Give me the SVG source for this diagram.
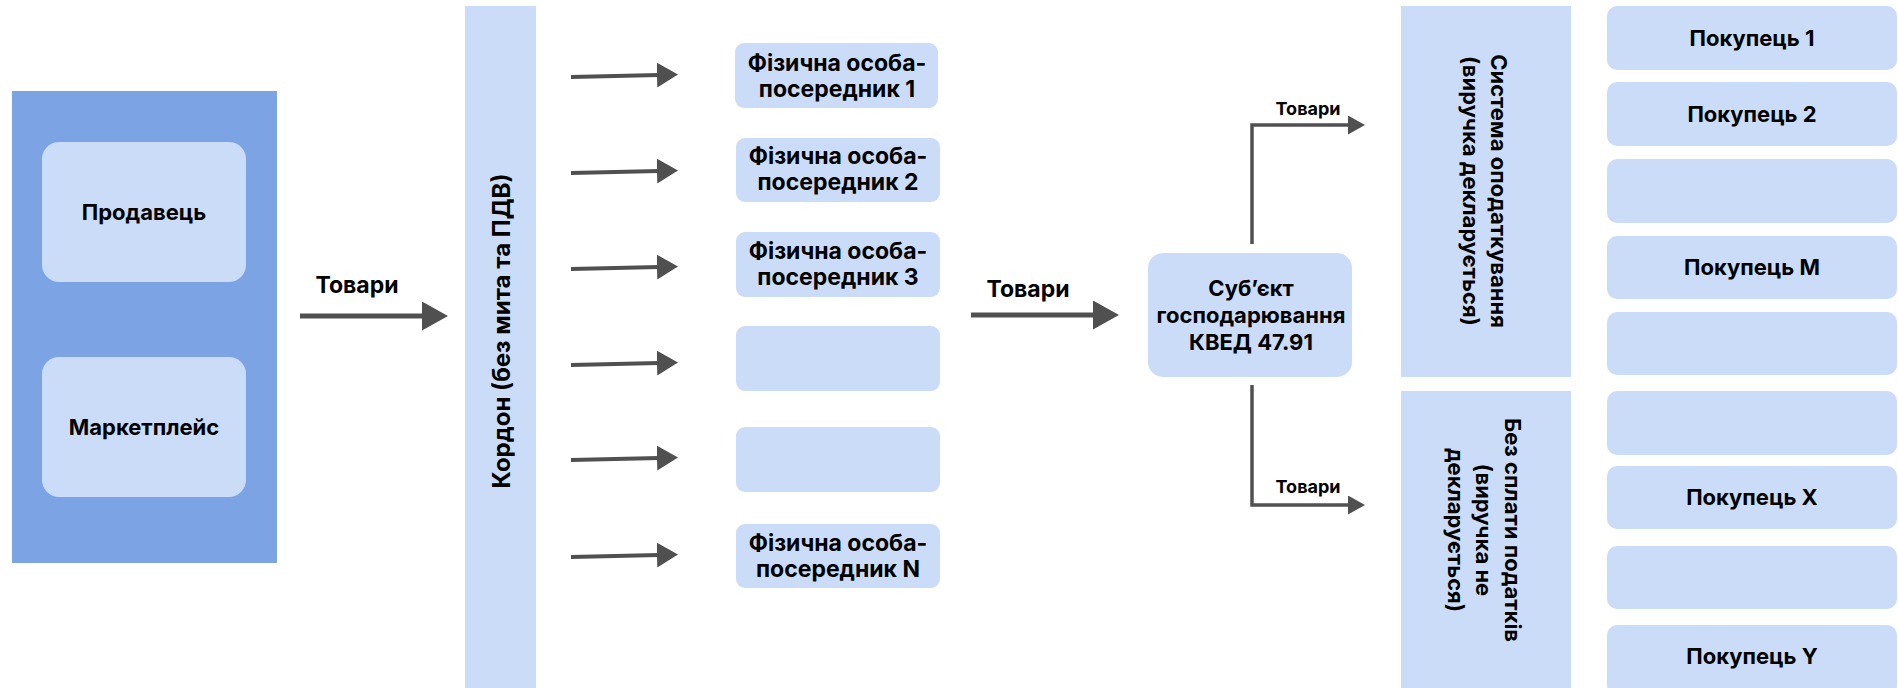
<svg xmlns="http://www.w3.org/2000/svg" width="1898" height="688" viewBox="0 0 1898 688">
<style>
.lb{fill:#CBDCF9}
.db{fill:#7CA3E3}
text{font-family:Inter,"Liberation Sans",Arial,sans-serif;font-weight:700;fill:#000;text-anchor:middle}
.t22{font-size:22px}
.t23{font-size:23px}
.t24{font-size:24px}
.t18{font-size:18px}
.con{stroke:#505050;fill:none}
.ah{fill:#505050}
</style>
<defs>
<marker id="mBig" markerUnits="userSpaceOnUse" markerWidth="26" markerHeight="29" viewBox="0 0 26 29" refX="2" refY="14.5" orient="auto"><path class="ah" d="M0,0 L26,14.5 L0,29 Z"/></marker>
<marker id="mMid" markerUnits="userSpaceOnUse" markerWidth="21" markerHeight="25" viewBox="0 0 21 25" refX="2" refY="12.5" orient="auto"><path class="ah" d="M0,0 L21,12.5 L0,25 Z"/></marker>
<marker id="mSm" markerUnits="userSpaceOnUse" markerWidth="17" markerHeight="19" viewBox="0 0 17 19" refX="2" refY="9.5" orient="auto"><path class="ah" d="M0,0 L17,9.5 L0,19 Z"/></marker>
</defs>

<g id="seller-group">
<rect class="db" x="12" y="91" width="265" height="472"/>
</g>
<g id="seller">
<rect class="lb" x="42" y="142" width="204" height="140" rx="17"/>
<text class="t22" x="144" y="220">Продавець</text>
</g>
<g id="marketplace">
<rect class="lb" x="42" y="357" width="204" height="140" rx="17"/>
<text class="t22" x="144" y="435">Маркетплейс</text>
</g>

<g id="border">
<rect class="lb" x="465" y="6" width="71" height="682"/>
<text class="t24" transform="translate(500.5,331) rotate(-90)" x="0" y="9">Кордон (без мита та ПДВ)</text>
</g>

<g id="person1">
<rect class="lb" x="735" y="43" width="203" height="65" rx="9"/>
<text class="t23" x="837" y="71">Фізична особа-</text>
<text class="t23" x="837" y="97">посередник 1</text>
</g>
<g id="person2">
<rect class="lb" x="736" y="138" width="204" height="64" rx="9"/>
<text class="t23" x="838" y="164">Фізична особа-</text>
<text class="t23" x="838" y="190">посередник 2</text>
</g>
<g id="person3">
<rect class="lb" x="736" y="232" width="204" height="65" rx="9"/>
<text class="t23" x="838" y="259">Фізична особа-</text>
<text class="t23" x="838" y="285">посередник 3</text>
</g>
<g id="person4">
<rect class="lb" x="736" y="326" width="204" height="65" rx="9"/>
</g>
<g id="person5">
<rect class="lb" x="736" y="427" width="204" height="65" rx="9"/>
</g>
<g id="person6">
<rect class="lb" x="736" y="524" width="204" height="64" rx="9"/>
<text class="t23" x="838" y="551">Фізична особа-</text>
<text class="t23" x="838" y="577">посередник N</text>
</g>

<g id="subject">
<rect class="lb" x="1148" y="253" width="204" height="124" rx="15"/>
<text class="t22" x="1251" y="296">Суб’єкт</text>
<text class="t22" x="1251" y="323">господарювання</text>
<text class="t22" x="1251" y="350">КВЕД 47.91</text>
</g>

<g id="tax-system">
<rect class="lb" x="1401" y="6" width="170" height="371"/>
<g transform="translate(1486,191) rotate(90)">
<text class="t22" x="0" y="-5">Система оподаткування</text>
<text class="t22" x="0" y="23">(виручка декларується)</text>
</g>
</g>
<g id="no-tax">
<rect class="lb" x="1401" y="391" width="170" height="297"/>
<g transform="translate(1486,530) rotate(90)">
<text class="t22" x="0" y="-19">Без сплати податків</text>
<text class="t22" x="0" y="10">(виручка не</text>
<text class="t22" x="0" y="38">декларується)</text>
</g>
</g>

<g id="buyer1"><rect class="lb" x="1607" y="6" width="290" height="64" rx="10"/><text class="t22" x="1752" y="46">Покупець 1</text></g>
<g id="buyer2"><rect class="lb" x="1607" y="82" width="290" height="64" rx="10"/><text class="t22" x="1752" y="122">Покупець 2</text></g>
<g id="buyer3"><rect class="lb" x="1607" y="159" width="290" height="64" rx="10"/></g>
<g id="buyerM"><rect class="lb" x="1607" y="236" width="290" height="63" rx="10"/><text class="t22" x="1752" y="275">Покупець M</text></g>
<g id="buyer5"><rect class="lb" x="1607" y="312" width="290" height="63" rx="10"/></g>
<g id="buyer6"><rect class="lb" x="1607" y="391" width="290" height="64" rx="10"/></g>
<g id="buyerX"><rect class="lb" x="1607" y="466" width="290" height="63" rx="10"/><text class="t22" x="1752" y="505">Покупець X</text></g>
<g id="buyer8"><rect class="lb" x="1607" y="546" width="290" height="63" rx="10"/></g>
<g id="buyerY"><rect class="lb" x="1607" y="625" width="290" height="70" rx="10"/><text class="t22" x="1752" y="664">Покупець Y</text></g>

<g id="connectors">
<line class="con" stroke-width="5" x1="300" y1="316" x2="424" y2="316" marker-end="url(#mBig)"/>
<text class="t23" x="357" y="293">Товари</text>
<line class="con" stroke-width="4" x1="571" y1="77" x2="659" y2="75" marker-end="url(#mMid)"/>
<line class="con" stroke-width="4" x1="571" y1="173" x2="659" y2="171" marker-end="url(#mMid)"/>
<line class="con" stroke-width="4" x1="571" y1="269" x2="659" y2="267" marker-end="url(#mMid)"/>
<line class="con" stroke-width="4" x1="571" y1="365" x2="659" y2="363" marker-end="url(#mMid)"/>
<line class="con" stroke-width="4" x1="571" y1="460" x2="659" y2="458" marker-end="url(#mMid)"/>
<line class="con" stroke-width="4" x1="571" y1="557" x2="659" y2="555" marker-end="url(#mMid)"/>
<line class="con" stroke-width="5" x1="971" y1="315" x2="1095" y2="315" marker-end="url(#mBig)"/>
<text class="t23" x="1028" y="297">Товари</text>
<polyline class="con" stroke-width="3.5" points="1252,244 1252,125 1350,125" marker-end="url(#mSm)"/>
<text class="t18" x="1308" y="115">Товари</text>
<polyline class="con" stroke-width="3.5" points="1252,385 1252,505 1350,505" marker-end="url(#mSm)"/>
<text class="t18" x="1308" y="493">Товари</text>
</g>
</svg>
